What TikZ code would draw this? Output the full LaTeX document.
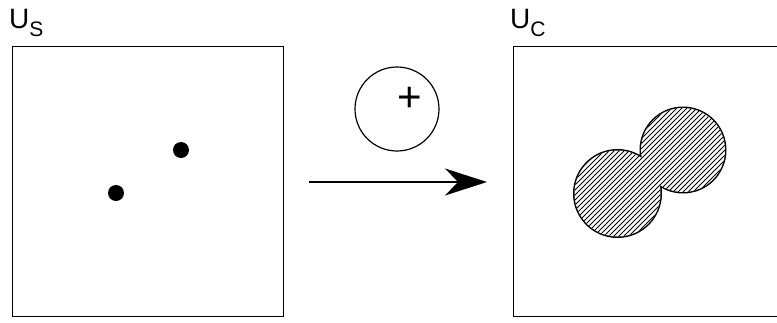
\documentclass[tikz,border=0pt]{standalone}
\usepackage{fontspec}
\setmainfont{Liberation Sans}
\usetikzlibrary{arrows.meta}
\tikzset{
  frame/.style={draw=black, line width=1.6pt},
  dotmark/.style={circle, fill=black, inner sep=0pt, minimum size=16pt},
  lbl/.style={anchor=base west, inner sep=0pt, font=\fontsize{28pt}{32pt}\selectfont},
  hatch/.style={line width=0.95pt},
}
\newcommand{\subtxt}[1]{\raisebox{-8pt}{\fontsize{21pt}{24pt}\selectfont #1}}
\begin{document}
\begin{tikzpicture}[x=1pt,y=-1pt]
\useasboundingbox (0,0) rectangle (777,322);
\clip (0,0) rectangle (777,322);
% left frame
\node[frame, anchor=north west, minimum width=271pt, minimum height=270pt, inner sep=0pt] (us) at (11.7,45.7) {};
\node[lbl] (uslbl) at (9,28) {U\subtxt{S}};
\node[dotmark] (d1) at (116,193) {};
\node[dotmark] (d2) at (181,150) {};
% operator circle
\node[circle, draw=black, line width=1.2pt, minimum size=84pt, inner sep=0pt] (op) at (397,109) {};
\node[inner sep=0pt, font=\fontsize{42pt}{44pt}\selectfont] (plus) at (409.5,99) {+};
% arrow
\coordinate (a0) at (309,182);
\coordinate (a1) at (487,182);
\draw[line width=1.3pt, -{Stealth[length=42pt, width=27pt, inset=13pt]}] (a0) -- (a1);
% right frame
\node[frame, anchor=north west, minimum width=300pt, minimum height=270pt, inner sep=0pt] (uc) at (512.7,45.7) {};
\node[lbl] (uclbl) at (510,28) {U\subtxt{C}};
% union of two disks
\coordinate (c1) at (617.5,193.5);
\coordinate (c2) at (683,150);
\draw[line width=3pt] (c1) circle (43) (c2) circle (42);
\begin{scope}
  \clip (c1) circle (43) (c2) circle (42);
  \fill[white] (570,100) rectangle (730,240);
  \foreach \x in {480,485,...,660} {
    \draw[hatch] (\x,250) -- ++(150,-150);
  }
\end{scope}
\end{tikzpicture}
\end{document}
